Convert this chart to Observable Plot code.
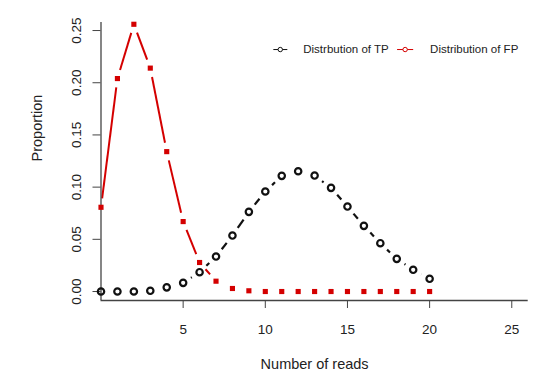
<!DOCTYPE html>
<html><head><meta charset="utf-8">
<script src="https://cdn.jsdelivr.net/npm/d3@7"></script>
<script src="https://cdn.jsdelivr.net/npm/@observablehq/plot@0.6"></script>
<style>body{margin:0;background:#fff;} #chart svg{display:block;}</style>
</head><body><div id="chart"></div>
<script>
const reads = [0,1,2,3,4,5,6,7,8,9,10,11,12,13,14,15,16,17,18,19,20];
const tpValues = [0,0,0,0.0007,0.004,0.0083,0.0185,0.0335,0.0536,0.0763,0.0958,0.1108,0.1152,0.1111,0.0993,0.0814,0.0629,0.0463,0.0313,0.0208,0.0122];
const fpValues = [0.0807,0.204,0.256,0.214,0.134,0.067,0.0278,0.0099,0.0029,0.0007,0,0,0,0,0,0,0,0,0,0,0];
const xTicks = [5,10,15,20,25];
const yTicks = [0,0.05,0.10,0.15,0.20,0.25];
const legendLabels = ["Distrbution of TP","Distribution of FP"];
const legendColors = ["#111111","#d40000"];
const legendX1 = [10.49, 18.02], legendX2 = [11.34, 19.0], legendDot = [10.91, 18.51], legendTextX = [12.31, 20.03];
const legendY = 0.2318;

const W = 553, H = 384, mt = 22, mr = 25.3, mb = 84, ml = 100.5;
const xDomain = [0, 26], yDomain = [-0.0086, 0.2577];
const RED = "#d40000", BLACK = "#111111";

const xs = Plot.scale({x: {domain: xDomain, range: [ml, W - mr]}});
const ys = Plot.scale({y: {domain: yDomain, range: [H - mb, mt]}});

// R type="b": segments between points with a gap around each point
function gapSegments(xv, yv, gap) {
  const out = [];
  for (let i = 0; i < xv.length - 1; i++) {
    const px1 = xs.apply(xv[i]), py1 = ys.apply(yv[i]);
    const px2 = xs.apply(xv[i+1]), py2 = ys.apply(yv[i+1]);
    const L = Math.hypot(px2 - px1, py2 - py1);
    if (L <= 2 * gap) continue;
    const ux = (px2 - px1) / L, uy = (py2 - py1) / L;
    out.push({
      x1: xs.invert(px1 + ux * gap), y1: ys.invert(py1 + uy * gap),
      x2: xs.invert(px2 - ux * gap), y2: ys.invert(py2 - uy * gap)
    });
  }
  return out;
}
const tpSeg = gapSegments(reads, tpValues, 9.3);
const fpSeg = gapSegments(reads, fpValues, 9.0);
const tpRows = reads.map((r, i) => ({reads: r, value: tpValues[i]}));
const fpRows = reads.map((r, i) => ({reads: r, value: fpValues[i]}));
const legendRows = legendLabels.map((l, i) => ({label: l, color: legendColors[i], x1: legendX1[i], x2: legendX2[i], xd: legendDot[i], xt: legendTextX[i], y: legendY}));

const chart = Plot.plot({
  width: W, height: H,
  marginTop: mt, marginRight: mr, marginBottom: mb, marginLeft: ml,
  style: {fontFamily: "'Liberation Sans', Arial, sans-serif", background: "#fff", color: "#222"},
  x: {domain: xDomain},
  y: {domain: yDomain},
  marks: [
    Plot.link(tpSeg, {x1: "x1", y1: "y1", x2: "x2", y2: "y2", stroke: BLACK, strokeWidth: 2.2}),
    Plot.link(fpSeg, {x1: "x1", y1: "y1", x2: "x2", y2: "y2", stroke: RED, strokeWidth: 2}),
    Plot.ruleX([xDomain[0]], {stroke: "#444", strokeWidth: 1.3}),
    Plot.ruleY([yDomain[0]], {stroke: "#444", strokeWidth: 1.3}),
    Plot.axisX(xTicks, {tickSize: 8, tickPadding: 16, fontSize: 13.5, label: null, color: "#222", stroke: "#444"}),
    Plot.axisY(yTicks, {tickFormat: d3.format(".2f"), tickSize: 8, tickPadding: 12, tickRotate: -90, fontSize: 13.5, label: null, color: "#222", stroke: "#444"}),
    Plot.dot(tpRows, {x: "reads", y: "value", r: 3.2, stroke: BLACK, strokeWidth: 2.2, fill: "none"}),
    Plot.dot(fpRows, {x: "reads", y: "value", r: 2.9, symbol: "square", fill: RED, stroke: "none"}),
    Plot.text(["Proportion"], {frameAnchor: "left", dx: -64, rotate: -90, fontSize: 14.5, fill: "#222"}),
    Plot.text(["Number of reads"], {frameAnchor: "bottom", dy: 68, fontSize: 14.5, fill: "#222"}),
    // legend
    Plot.link(legendRows, {x1: "x1", x2: "x2", y1: "y", y2: "y", stroke: "color", strokeWidth: 1}),
    Plot.dot(legendRows, {x: "xd", y: "y", r: 2.2, stroke: "color", fill: "#fff", strokeWidth: 1}),
    Plot.text(legendRows, {x: "xt", y: "y", text: "label", textAnchor: "start", fontSize: 11.5, fill: "#222"})
  ]
});
document.getElementById("chart").appendChild(chart);
</script>
</body></html>
